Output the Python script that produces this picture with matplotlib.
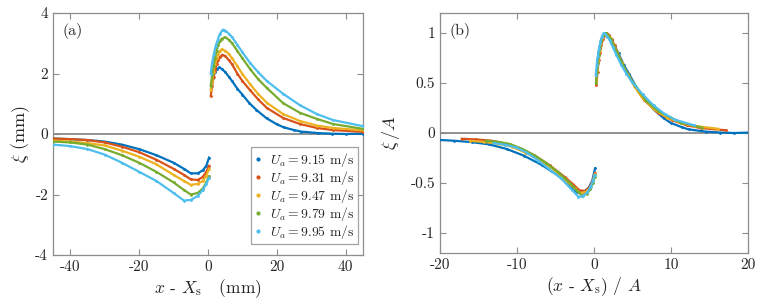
import matplotlib
matplotlib.use("Agg")
import matplotlib.pyplot as plt
import numpy as np

plt.rcParams['font.family'] = 'serif'
plt.rcParams['font.serif'] = ['cmr10', 'DejaVu Serif']
plt.rcParams['mathtext.fontset'] = 'cm'
plt.rcParams['axes.unicode_minus'] = False
plt.rcParams['axes.formatter.use_mathtext'] = True

# air velocities (m/s)
speeds = ['9.15', '9.31', '9.47', '9.79', '9.95']
colors = ['#0072BD', '#D95319', '#EDB120', '#77AC30', '#4DBEEE']

# upstream (trough) branch, x - Xs in mm, xi in mm
x_neg = [-45, -40, -35, -30, -25, -20, -15, -10, -7, -5, -3, -1.5, -0.5, 0.3]
xi_neg_915 = [-0.15, -0.17, -0.2, -0.25, -0.35, -0.5, -0.7, -0.95, -1.15, -1.3, -1.3, -1.2, -1.05, -0.78]
xi_neg_931 = [-0.15, -0.17, -0.2, -0.28, -0.42, -0.6, -0.85, -1.15, -1.35, -1.5, -1.52, -1.42, -1.25, -1.05]
xi_neg_947 = [-0.22, -0.25, -0.3, -0.38, -0.55, -0.75, -1.0, -1.35, -1.55, -1.68, -1.65, -1.55, -1.38, -1.15]
xi_neg_979 = [-0.25, -0.28, -0.35, -0.5, -0.7, -0.95, -1.25, -1.6, -1.85, -2.0, -1.95, -1.8, -1.6, -1.4]
xi_neg_995 = [-0.35, -0.4, -0.5, -0.68, -0.95, -1.25, -1.55, -1.95, -2.2, -2.18, -2.05, -1.85, -1.65, -1.45]

# downstream (crest) branch
x_pos_915 = [1.0, 1.5, 2.0, 2.6, 3.3, 4.0, 5.0, 6.0, 7.0, 8.5, 10, 12, 14, 17, 20, 22, 25, 27, 32, 36, 40, 45]
xi_pos_915 = [1.6, 1.85, 2.05, 2.15, 2.2, 2.15, 2.05, 1.9, 1.75, 1.5, 1.3, 1.02, 0.8, 0.52, 0.32, 0.22, 0.13, 0.08, 0.03, 0.01, 0.0, 0.01]
x_pos_931 = [0.8, 1.2, 1.6, 2.0, 2.5, 3.0, 3.5, 4.2, 5.0, 6.0, 7.0, 8.5, 10, 12.2, 14.5, 17.1, 21.8, 26.7, 31.6, 36.3, 45]
xi_pos_931 = [1.26, 1.6, 1.9, 2.1, 2.3, 2.45, 2.55, 2.62, 2.58, 2.45, 2.3, 2.0, 1.75, 1.45, 1.15, 0.86, 0.53, 0.33, 0.2, 0.13, 0.07]
x_pos_947 = [0.8, 1.2, 1.6, 2.0, 2.5, 3.0, 3.5, 4.0, 5.0, 6.0, 7.0, 8.5, 10, 12.2, 14.5, 17.1, 21.8, 26.7, 31.6, 36.3, 45]
xi_pos_947 = [1.45, 1.75, 2.05, 2.3, 2.5, 2.65, 2.75, 2.8, 2.75, 2.65, 2.5, 2.25, 1.98, 1.65, 1.33, 1.03, 0.66, 0.43, 0.28, 0.2, 0.12]
x_pos_979 = [0.8, 1.2, 1.6, 2.0, 2.5, 3.0, 3.5, 4.0, 5.0, 6.0, 7.0, 8.5, 10, 12.2, 14.5, 17.1, 21.8, 26.7, 31.6, 36.3, 45]
xi_pos_979 = [1.6, 1.95, 2.25, 2.5, 2.75, 2.95, 3.07, 3.15, 3.2, 3.12, 3.0, 2.75, 2.5, 2.15, 1.82, 1.52, 1.02, 0.7, 0.5, 0.33, 0.17]
x_pos_995 = [0.8, 1.2, 1.7, 2.2, 2.8, 3.4, 4.3, 5.0, 6.0, 7.0, 8.5, 10, 12.2, 14.5, 17.1, 21.8, 26.7, 31.6, 36.3, 45]
xi_pos_995 = [2.0, 2.35, 2.65, 2.9, 3.1, 3.3, 3.45, 3.42, 3.32, 3.2, 2.95, 2.7, 2.35, 2.05, 1.75, 1.33, 0.95, 0.66, 0.46, 0.26]

neg = [xi_neg_915, xi_neg_931, xi_neg_947, xi_neg_979, xi_neg_995]
pos_x = [x_pos_915, x_pos_931, x_pos_947, x_pos_979, x_pos_995]
pos_y = [xi_pos_915, xi_pos_931, xi_pos_947, xi_pos_979, xi_pos_995]

xt_a = [-40, -20, 0, 20, 40]
yt_a = [-4, -2, 0, 2, 4]
xt_b = [-20, -10, 0, 10, 20]
yt_b = [-1, -0.5, 0, 0.5, 1]

frame = '#8c8c8c'
txt = '#262626'

fig = plt.figure(figsize=(7.63, 3.06), dpi=100)
W, H = 763, 306
ax1 = fig.add_axes([53 / W, 1 - 255 / H, 310 / W, 242 / H])
ax2 = fig.add_axes([440 / W, 1 - 253 / H, 308 / W, 240 / H])

for i in range(5):
    A = max(pos_y[i])
    xn = np.array(x_neg)
    yn = np.array(neg[i])
    xp = np.array(pos_x[i])
    yp = np.array(pos_y[i])
    kw = dict(color=colors[i], lw=1.6, marker='.', ms=2, zorder=3)
    ax1.plot(xn, yn, **kw)
    ax1.plot(xp, yp, **kw)
    ax2.plot(xn / A, yn / A, **kw)
    ax2.plot(xp / A, yp / A, **kw)
    # legend handle: dot only
    ax1.plot([], [], ls='none', marker='.', ms=4, color=colors[i],
             label=r'$U_a = %s$ m/s' % speeds[i])

for ax in (ax1, ax2):
    ax.axhline(0, color='#808080', lw=1.2, zorder=2)
    for s in ax.spines.values():
        s.set_color(frame)
        s.set_linewidth(0.9)
    ax.tick_params(direction='in', top=True, right=True, color=frame,
                   labelcolor=txt, labelsize=11, length=4)

ax1.set_xlim(-45, 45)
ax1.set_ylim(-4, 4)
ax1.set_xticks(xt_a, [str(v) for v in xt_a])
ax1.set_yticks(yt_a, [str(v) for v in yt_a])
ax1.set_xlabel(r'$x$ - $X_{\rm s}$   (mm)', fontsize=12.5, color=txt, labelpad=3)
ax1.set_ylabel(r'$\xi$ (mm)', fontsize=13, color=txt, labelpad=2)
ax1.text(0.03, 0.96, '(a)', transform=ax1.transAxes, va='top', ha='left',
         fontsize=11.5, color=txt)
leg = ax1.legend(loc='lower right', fontsize=9.8, frameon=True, fancybox=False,
                 handlelength=0.6, handletextpad=0.6, borderpad=0.25,
                 labelspacing=0.0, borderaxespad=0,
                 bbox_to_anchor=(0.984, 0.045))
leg.get_frame().set_edgecolor(frame)
leg.get_frame().set_linewidth(0.9)
for t in leg.get_texts():
    t.set_color(txt)

ax2.set_xlim(-20, 20)
ax2.set_ylim(-1.2, 1.2)
ax2.set_xticks(xt_b, [str(v) for v in xt_b])
ax2.set_yticks(yt_b, ['-1', '-0.5', '0', '0.5', '1'])
ax2.set_xlabel(r'$(x$ - $X_{\rm s})$ / $A$', fontsize=12.5, color=txt, labelpad=3)
ax2.set_ylabel(r'$\xi\,/A$', fontsize=13, color=txt, labelpad=6)
ax2.text(0.03, 0.96, '(b)', transform=ax2.transAxes, va='top', ha='left',
         fontsize=11.5, color=txt)

fig.savefig('out.png', dpi=100)
